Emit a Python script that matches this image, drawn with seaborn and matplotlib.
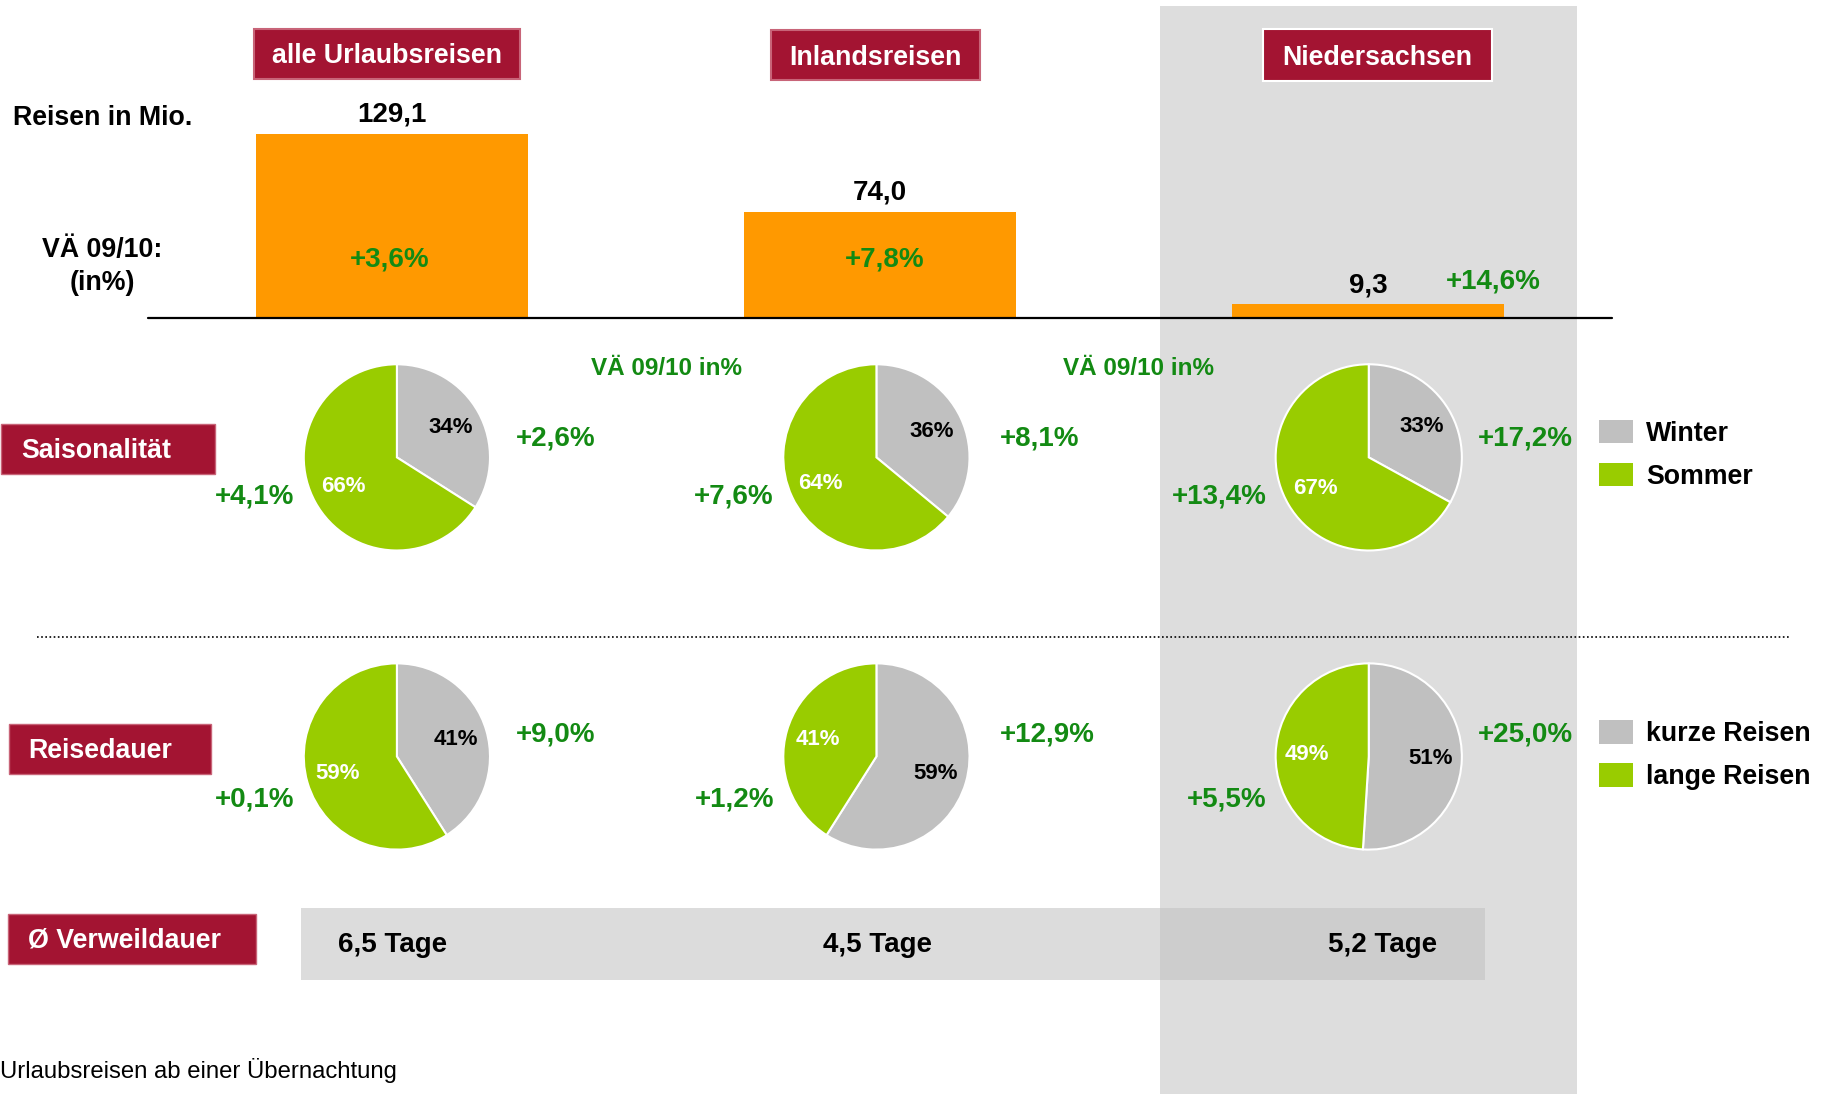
import matplotlib.pyplot as plt
import matplotlib.patches as mpatches
import seaborn as sns

# --- data ---
categories = ['alle Urlaubsreisen', 'Inlandsreisen', 'Niedersachsen']
reisen_mio = [129.1, 74.0, 9.3]
reisen_change = ['+3,6%', '+7,8%', '+14,6%']

winter_share = [34, 36, 33]
sommer_share = [66, 64, 67]
winter_change = ['+2,6%', '+8,1%', '+17,2%']
sommer_change = ['+4,1%', '+7,6%', '+13,4%']

kurz_share = [41, 59, 51]
lang_share = [59, 41, 49]
kurz_change = ['+9,0%', '+12,9%', '+25,0%']
lang_change = ['+0,1%', '+1,2%', '+5,5%']

verweildauer = [6.5, 4.5, 5.2]

# --- style ---
CRIMSON = '#A31432'
ORANGE = '#FF9900'
GREEN_TXT = '#138A13'
PIE_GREEN = '#99CC00'
PIE_GRAY = '#C0C0C0'
COL_GRAY = '#DDDDDD'
FS_WORD = 19.3   # bold words
FS_NUM = 20      # bold numbers

sns.set_style('white')
plt.rcParams['font.family'] = ['Liberation Sans', 'DejaVu Sans']
plt.rcParams['text.color'] = 'black'

W, H = 1568, 940  # layout grid (same aspect as output)


def de(v, fmt='{:.1f}'):
    return fmt.format(v).replace('.', ',')


def frac_box(x0, y0, w, h):
    """layout-pixel box (top-left origin) -> figure fraction"""
    return [x0 / W, 1 - (y0 + h) / H, w / W, h / H]


fig = plt.figure(figsize=(18.25, 10.94), dpi=100)

# background layer
bg = fig.add_axes([0, 0, 1, 1], zorder=0)
bg.set_xlim(0, W)
bg.set_ylim(H, 0)
bg.axis('off')
bg.add_patch(mpatches.Rectangle((997, 5), 358, 940, color=COL_GRAY, lw=0, zorder=0))
bg.add_patch(mpatches.Rectangle((259, 780), 1017, 62, color=PIE_GRAY, alpha=0.54, lw=0, zorder=1))
bg.plot([32, 1537], [547, 547], color='black', lw=1.2, linestyle=(0, (1, 1.5)), zorder=2)

# bars
bar_ax = fig.add_axes(frac_box(127, 273 - 171.5, 1258, 171.5), zorder=1)
bar_ax.patch.set_alpha(0)
sns.barplot(x=categories, y=reisen_mio, ax=bar_ax, color=ORANGE, saturation=1,
            width=0.556, linewidth=0)
bar_ax.set_xlim(-0.5, 2.5)
bar_ax.set_ylim(0, 140)
bar_ax.axhline(0, color='black', lw=1.6, clip_on=False)
for i, v in enumerate(reisen_mio):
    bar_ax.annotate(de(v), (i, v), xytext=(0, 14), textcoords='offset points',
                    ha='center', va='center', fontsize=FS_NUM, fontweight='bold')
bar_ax.axis('off')

# pies
pie_x = [341, 753, 1176]
right_off = [102, 106, 94]
rows = [(393, winter_share, sommer_share, winter_change, sommer_change, -16, 34),
        (650, kurz_share, lang_share, kurz_change, lang_change, -19, 37)]

ov = fig.add_axes([0, 0, 1, 1], zorder=3)
ov.patch.set_alpha(0)
ov.set_xlim(0, W)
ov.set_ylim(H, 0)
ov.axis('off')

for cy, grey_vals, green_vals, grey_chg, green_chg, dy_r, dy_l in rows:
    for cx, ro, g, s, gc, sc in zip(pie_x, right_off, grey_vals, green_vals, grey_chg, green_chg):
        pa = fig.add_axes(frac_box(cx - 84, cy - 84, 168, 168), zorder=2)
        wedges, texts, autotexts = pa.pie(
            [g, s], colors=[PIE_GRAY, PIE_GREEN], startangle=90, counterclock=False,
            autopct='%.0f%%', pctdistance=0.66,
            wedgeprops=dict(edgecolor='white', linewidth=1.5),
            textprops=dict(fontsize=16, fontweight='bold'))
        autotexts[0].set_color('black')
        autotexts[1].set_color('white')
        pa.set_xlim(-1.05, 1.05)
        pa.set_ylim(-1.05, 1.05)
        ov.text(cx + ro, cy + dy_r, gc, ha='left', va='center', fontsize=FS_NUM,
                fontweight='bold', color=GREEN_TXT)
        ov.text(cx - 88, cy + dy_l, sc, ha='right', va='center', fontsize=FS_NUM,
                fontweight='bold', color=GREEN_TXT)

# header boxes
headers = [(218, 25, 229, 43), (662, 26, 180, 43), (1085, 25, 197, 45)]
for (x0, y0, w, h), name, ec in zip(headers, categories, ['#C86478', '#C86478', 'white']):
    ov.add_patch(mpatches.Rectangle((x0, y0), w, h, facecolor=CRIMSON, edgecolor=ec, lw=1.5))
    ov.text(x0 + w / 2, y0 + h / 2 + 2, name, ha='center', va='center', color='white',
            fontsize=FS_WORD, fontweight='bold')

# left row labels
row_boxes = [((1, 364, 184, 43), 'Saisonalität', 18),
             ((8, 622, 173, 43), 'Reisedauer', 24),
             ((7, 785, 213, 43), 'Ø Verweildauer', 24)]
for (x0, y0, w, h), txt, tx in row_boxes:
    ov.add_patch(mpatches.Rectangle((x0, y0), w, h, facecolor=CRIMSON, edgecolor='#C86478', lw=1))
    ov.text(tx, y0 + h / 2 + 2, txt, ha='left', va='center', color='white',
            fontsize=FS_WORD, fontweight='bold')

# bar section texts
ov.text(88, 101, 'Reisen in Mio.', ha='center', va='center', fontsize=FS_WORD, fontweight='bold')
ov.text(88, 215, 'VÄ 09/10:', ha='center', va='center', fontsize=FS_WORD, fontweight='bold')
ov.text(88, 243, '(in%)', ha='center', va='center', fontsize=FS_WORD, fontweight='bold')
for (x, y), t in zip([(335, 223), (760, 223), (1283, 242)], reisen_change):
    ov.text(x, y, t, ha='center', va='center', fontsize=FS_NUM, fontweight='bold', color=GREEN_TXT)

for x in [573, 978]:
    ov.text(x, 317, 'VÄ 09/10 in%', ha='center', va='center', fontsize=17.5,
            fontweight='bold', color=GREEN_TXT)

# legends
legend_items = [(361, PIE_GRAY, 'Winter'), (398, PIE_GREEN, 'Sommer'),
                (619, PIE_GRAY, 'kurze Reisen'), (656, PIE_GREEN, 'lange Reisen')]
for y0, c, lab in legend_items:
    ov.add_patch(mpatches.Rectangle((1374, y0), 29, 20, facecolor=c, lw=0))
    ov.text(1414, y0 + 12, lab, ha='left', va='center', fontsize=FS_WORD, fontweight='bold')

# Verweildauer
for x, v in zip([337, 754, 1188], verweildauer):
    ov.text(x, 812, de(v) + ' Tage', ha='center', va='center', fontsize=FS_NUM, fontweight='bold')

ov.text(0, 920, 'Urlaubsreisen ab einer Übernachtung', ha='left', va='center', fontsize=17.2)

fig.savefig('out.png', dpi=100)
